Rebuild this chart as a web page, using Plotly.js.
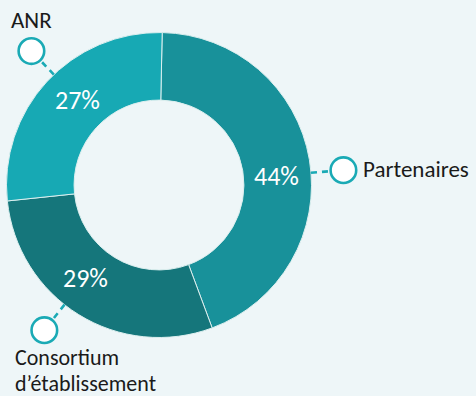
<!DOCTYPE html>
<html>
<head>
<meta charset="utf-8">
<script src="https://cdn.plot.ly/plotly-3.0.1.min.js"></script>
<style>
  html, body { margin: 0; padding: 0; background: #eef6f8; }
  #chart { width: 476px; height: 396px; }
</style>
</head>
<body>
<div id="chart"></div>
<script>
// Funding sources, share of total (%)
const categories = ['Partenaires', 'Consortium d’établissement', 'ANR'];
const labelLines = [['Partenaires'], ['Consortium', 'd’établissement'], ['ANR']];
const shares = [44, 29, 27];
const sliceColors = ['#18919a', '#15767b', '#17a9b4'];
const calloutSide = ['right', 'below', 'above'];
const calloutNudge = [5, 6.5, 3.8];   // degrees clockwise of each slice's middle

// Geometry of the ring, in page pixels
const W = 476, H = 396;
const cx = 159, cy = 185, R = 152.5, holeFrac = 0.557;
const rotation = 1.2;          // first slice starts just past 12 o'clock
const textR = 118, calloutR = 185, dotR = 12.8;
const teal = '#1aaab5';
const fontFam = 'Carlito, Lato, "Open Sans", sans-serif';

const px = (x) => x / W;
const py = (y) => 1 - y / H;
const polar = (r, deg) => {
  const a = deg * Math.PI / 180;
  return [cx + r * Math.sin(a), cy - r * Math.cos(a)];
};

const total = shares.reduce((s, v) => s + v, 0);
let start = rotation;
const mids = shares.map(v => {
  const span = v / total * 360;
  const m = start + span / 2;
  start += span;
  return m;
});

const annotations = [];
const shapes = [];

mids.forEach((m, i) => {
  const a = m + calloutNudge[i];

  // value inside the ring
  const [tx, ty] = polar(textR, a);
  annotations.push({
    x: px(tx), y: py(ty), xref: 'paper', yref: 'paper',
    xanchor: 'center', yanchor: 'middle', showarrow: false,
    text: shares[i] + '%',
    font: { family: fontFam, size: 26, color: '#ffffff', weight: 300 }
  });

  // dashed leader from the ring edge to the dot
  const [lx0, ly0] = polar(R, a);
  const [lx1, ly1] = polar(calloutR - dotR - 1.3, a);
  shapes.push({
    type: 'line', xref: 'paper', yref: 'paper',
    x0: px(lx0), y0: py(ly0), x1: px(lx1), y1: py(ly1),
    line: { color: teal, width: 2.6, dash: '6px,5px' }
  });

  // callout dot
  const [dx, dy] = polar(calloutR, a);
  shapes.push({
    type: 'circle', xref: 'paper', yref: 'paper',
    x0: px(dx - dotR), x1: px(dx + dotR),
    y0: py(dy + dotR), y1: py(dy - dotR),
    fillcolor: '#ffffff', line: { color: teal, width: 2.6 }
  });

  // category name next to the dot, one annotation per line for tight leading
  const side = calloutSide[i];
  let ax, ay, xa, size = 23, gap = 0;
  if (side === 'right') { ax = dx + 18; ay = dy - 1; xa = 'left'; }
  else if (side === 'above') { ax = dx; ay = dy - 31; xa = 'center'; }
  else { ax = dx - 31; ay = dy + 27; xa = 'left'; size = 22; gap = 26; }
  labelLines[i].forEach((line, k) => {
    annotations.push({
      x: px(ax), y: py(ay + k * gap), xref: 'paper', yref: 'paper',
      xanchor: xa, yanchor: 'middle', showarrow: false,
      text: line,
      font: { family: fontFam, size: size, color: '#1a1a1a' }
    });
  });
});

const trace = {
  type: 'pie',
  labels: categories,
  values: shares,
  sort: false,
  direction: 'clockwise',
  rotation: rotation,
  hole: holeFrac,
  textinfo: 'none',
  hoverinfo: 'label+percent',
  marker: { colors: sliceColors, line: { color: '#dcefef', width: 1 } },
  domain: { x: [px(cx - R), px(cx + R)], y: [py(cy + R), py(cy - R)] },
  showlegend: false
};

const layout = {
  width: W, height: H,
  margin: { l: 0, r: 0, t: 0, b: 0 },
  paper_bgcolor: '#eef6f8',
  plot_bgcolor: '#eef6f8',
  showlegend: false,
  annotations: annotations,
  shapes: shapes
};

Plotly.newPlot('chart', [trace], layout, { displayModeBar: false, staticPlot: true });
</script>
</body>
</html>
